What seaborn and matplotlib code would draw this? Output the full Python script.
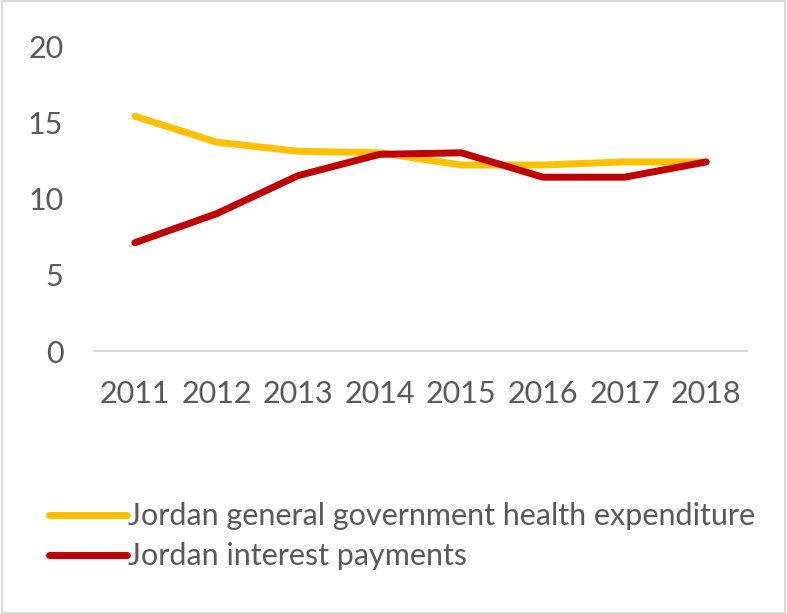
import matplotlib
matplotlib.use("Agg")
import matplotlib.pyplot as plt
from matplotlib.patches import Rectangle
from matplotlib.lines import Line2D
import pandas as pd
import seaborn as sns

years = ["2011", "2012", "2013", "2014", "2015", "2016", "2017", "2018"]
health_expenditure = [15.4, 13.7, 13.1, 13.0, 12.2, 12.2, 12.4, 12.4]
interest_payments = [7.1, 9.0, 11.5, 12.9, 13.0, 11.4, 11.4, 12.4]
series_names = ["Jordan general government health expenditure",
                "Jordan interest payments"]
y_ticks = [0, 5, 10, 15, 20]

df = pd.DataFrame({
    "pos": list(range(len(years))) * 2,
    "value": health_expenditure + interest_payments,
    "series": [series_names[0]] * len(years) + [series_names[1]] * len(years),
})

sns.set_style("white")
plt.rcParams["font.family"] = ["Lato", "DejaVu Sans"]
text_color = "#595959"
font_size = 22

fig = plt.figure(figsize=(7.87, 6.14), dpi=100)
ax = fig.add_axes([0.1194, 0.4283, 0.9492 - 0.1194, 0.925 - 0.4283])

palette = {series_names[0]: "#FFC000", series_names[1]: "#C00000"}
sns.lineplot(data=df, x="pos", y="value", hue="series", palette=palette,
             linewidth=5, ax=ax, legend=False)
for line in ax.lines:
    line.set_solid_capstyle("round")
    line.set_solid_joinstyle("round")

ax.set_xlim(-0.5, len(years) - 0.5)
ax.set_ylim(0, 20)
ax.set_xticks(range(len(years)))
ax.set_xticklabels(years)
ax.set_yticks(y_ticks)
ax.set_yticklabels([str(t) for t in y_ticks])
ax.set_xlabel("")
ax.set_ylabel("")
ax.tick_params(axis="both", length=0, labelsize=font_size, colors=text_color)
ax.tick_params(axis="y", pad=22)
ax.tick_params(axis="x", pad=21)

for side in ["left", "right", "top"]:
    ax.spines[side].set_visible(False)
ax.spines["bottom"].set_color("#D9D9D9")
ax.spines["bottom"].set_linewidth(1.5)

# Legend below the plot
handles = [Line2D([0], [0], color=palette[n], linewidth=5, solid_capstyle="round")
           for n in series_names]
leg = fig.legend(handles, series_names, loc="upper left",
                 bbox_to_anchor=(0.062, 0.182), frameon=False,
                 fontsize=font_size, handlelength=2.55, handletextpad=0.05,
                 labelspacing=0.4, borderaxespad=0, borderpad=0)
for t in leg.get_texts():
    t.set_color(text_color)

# Chart area border
fig.patches.append(Rectangle((0.002, 0.002), 0.996, 0.996, transform=fig.transFigure,
                             fill=False, edgecolor="#D9D9D9", linewidth=1.5))

fig.savefig("out.png", dpi=100, facecolor="white")
